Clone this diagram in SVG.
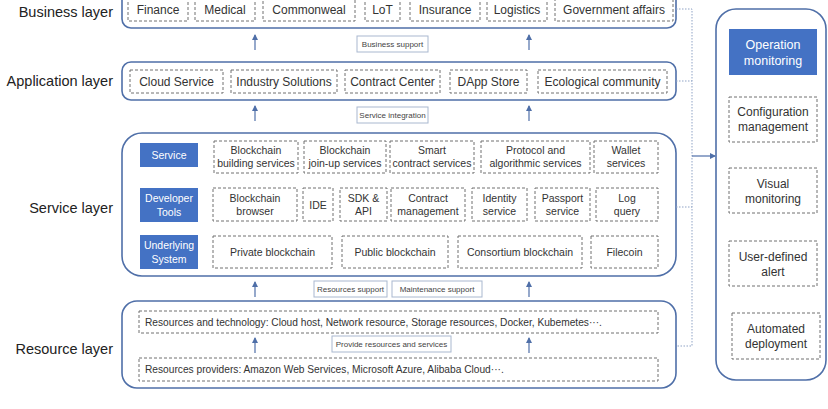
<svg xmlns="http://www.w3.org/2000/svg" width="828" height="409" viewBox="0 0 828 409">
<defs>
<marker id="ah" markerWidth="6" markerHeight="6" refX="5" refY="3" orient="auto" markerUnits="userSpaceOnUse">
<path d="M0,0 L6,3 L0,6 Z" fill="#4f6fa8"/>
</marker>
<style>
.layer{fill:#fff;stroke:#4f6fa8;stroke-width:1.6}
.dash{fill:#fff;stroke:#707070;stroke-width:1;stroke-dasharray:3 2}
.blue{fill:#4472c4;stroke:none}
.lbl{fill:#fff;stroke:#a9b8cf;stroke-width:1}
.t{font-family:"Liberation Sans",Arial,sans-serif;fill:#333;text-anchor:middle}
.title{font-family:"Liberation Sans",Arial,sans-serif;fill:#222;font-size:14.5px;text-anchor:end}
.b{font-size:12px}
.s{font-size:10.5px}
.r{font-size:10.2px;text-anchor:start}
.w{fill:#fff}
.l{font-size:8px;fill:#444}
.m{font-size:12px}
.arr{stroke:#4f6fa8;stroke-width:1.2;fill:none}
.dot{stroke:#8fa3c5;stroke-width:1;stroke-dasharray:1.5 1.5;fill:none}
</style>
</defs>

<!-- Layer titles -->
<text class="title" x="113" y="17">Business layer</text>
<text class="title" x="113" y="86">Application layer</text>
<text class="title" x="113" y="213">Service layer</text>
<text class="title" x="113" y="354">Resource layer</text>

<!-- Business layer -->
<g id="business-layer">
<rect class="layer" x="122" y="-12" width="554" height="40" rx="9"/>
<g id="biz-finance"><rect class="dash" x="128" y="-3" width="60" height="24"/><text class="t b" x="158" y="14">Finance</text></g>
<g id="biz-medical"><rect class="dash" x="195" y="-3" width="60" height="24"/><text class="t b" x="225" y="14">Medical</text></g>
<g id="biz-commonweal"><rect class="dash" x="263" y="-3" width="92" height="24"/><text class="t b" x="309" y="14">Commonweal</text></g>
<g id="biz-lot"><rect class="dash" x="365" y="-3" width="35" height="24"/><text class="t b" x="382.5" y="14">LoT</text></g>
<g id="biz-insurance"><rect class="dash" x="410" y="-3" width="70" height="24"/><text class="t b" x="445" y="14">Insurance</text></g>
<g id="biz-logistics"><rect class="dash" x="487" y="-3" width="60" height="24"/><text class="t b" x="517" y="14">Logistics</text></g>
<g id="biz-gov"><rect class="dash" x="555" y="-3" width="118" height="24"/><text class="t b" x="614" y="14">Government affairs</text></g>
</g>

<!-- Application layer -->
<g id="application-layer">
<rect class="layer" x="122" y="62" width="554" height="38" rx="9"/>
<g id="app-cloud"><rect class="dash" x="130" y="70" width="93" height="23"/><text class="t b" x="176.5" y="86">Cloud Service</text></g>
<g id="app-industry"><rect class="dash" x="231" y="70" width="106" height="23"/><text class="t b" x="284" y="86">Industry Solutions</text></g>
<g id="app-contract"><rect class="dash" x="345" y="70" width="95" height="23"/><text class="t b" x="392.5" y="86">Contract Center</text></g>
<g id="app-dapp"><rect class="dash" x="450" y="70" width="77" height="23"/><text class="t b" x="488.5" y="86">DApp Store</text></g>
<g id="app-eco"><rect class="dash" x="538" y="70" width="129" height="23"/><text class="t b" x="602.5" y="86">Ecological community</text></g>
</g>

<!-- Service layer -->
<g id="service-layer">
<rect class="layer" x="122" y="133" width="554" height="143" rx="20"/>
<g id="svc-service"><rect class="blue" x="140" y="143" width="58" height="24"/><text class="t s w" x="169" y="159">Service</text></g>
<g id="svc-devtools"><rect class="blue" x="140" y="188" width="58" height="34"/><text class="t s w" x="169" y="202">Developer</text><text class="t s w" x="169" y="216">Tools</text></g>
<g id="svc-underlying"><rect class="blue" x="140" y="235" width="58" height="34"/><text class="t s w" x="169" y="249">Underlying</text><text class="t s w" x="169" y="263">System</text></g>

<g id="svc-build"><rect class="dash" x="214" y="141" width="84" height="32"/><text class="t s" x="256" y="154">Blockchain</text><text class="t s" x="256" y="167">building services</text></g>
<g id="svc-joinup"><rect class="dash" x="304" y="141" width="82" height="32"/><text class="t s" x="345" y="154">Blockchain</text><text class="t s" x="345" y="167">join-up services</text></g>
<g id="svc-smart"><rect class="dash" x="390" y="141" width="84" height="32"/><text class="t s" x="432" y="154">Smart</text><text class="t s" x="432" y="167">contract services</text></g>
<g id="svc-protocol"><rect class="dash" x="481" y="141" width="109" height="32"/><text class="t s" x="535.5" y="154">Protocol and</text><text class="t s" x="535.5" y="167">algorithmic services</text></g>
<g id="svc-wallet"><rect class="dash" x="594" y="141" width="64" height="32"/><text class="t s" x="626" y="154">Wallet</text><text class="t s" x="626" y="167">services</text></g>

<g id="dev-browser"><rect class="dash" x="213" y="188" width="84" height="33"/><text class="t s" x="255" y="202">Blockchain</text><text class="t s" x="255" y="215">browser</text></g>
<g id="dev-ide"><rect class="dash" x="303" y="188" width="30" height="33"/><text class="t s" x="318" y="208.5">IDE</text></g>
<g id="dev-sdk"><rect class="dash" x="340" y="188" width="47" height="33"/><text class="t s" x="363.5" y="202">SDK &amp;</text><text class="t s" x="363.5" y="215">API</text></g>
<g id="dev-contract"><rect class="dash" x="391" y="188" width="74" height="33"/><text class="t s" x="428" y="202">Contract</text><text class="t s" x="428" y="215">management</text></g>
<g id="dev-identity"><rect class="dash" x="472" y="188" width="55" height="33"/><text class="t s" x="499.5" y="202">Identity</text><text class="t s" x="499.5" y="215">service</text></g>
<g id="dev-passport"><rect class="dash" x="535" y="188" width="55" height="33"/><text class="t s" x="562.5" y="202">Passport</text><text class="t s" x="562.5" y="215">service</text></g>
<g id="dev-log"><rect class="dash" x="596" y="188" width="62" height="33"/><text class="t s" x="627" y="202">Log</text><text class="t s" x="627" y="215">query</text></g>

<g id="sys-private"><rect class="dash" x="213" y="236" width="119" height="32"/><text class="t s" x="272.5" y="256">Private blockchain</text></g>
<g id="sys-public"><rect class="dash" x="342" y="236" width="106" height="32"/><text class="t s" x="395" y="256">Public blockchain</text></g>
<g id="sys-consortium"><rect class="dash" x="458" y="236" width="124" height="32"/><text class="t s" x="520" y="256">Consortium blockchain</text></g>
<g id="sys-filecoin"><rect class="dash" x="591" y="236" width="67" height="32"/><text class="t s" x="624.5" y="256">Filecoin</text></g>
</g>

<!-- Resource layer -->
<g id="resource-layer">
<rect class="layer" x="122" y="301" width="554" height="87" rx="15"/>
<g id="res-tech"><rect class="dash" x="139" y="311" width="519" height="22"/><text class="t r" x="145" y="326">Resources and technology: Cloud host, Network resource, Storage resources, Docker, Kubemetes···.</text></g>
<g id="res-providers"><rect class="dash" x="139" y="358" width="519" height="23"/><text class="t r" x="145" y="373">Resources providers: Amazon Web Services, Microsoft Azure,  Alibaba Cloud···.</text></g>
</g>

<!-- Operation monitoring panel -->
<g id="monitoring-panel">
<rect class="layer" x="716" y="9" width="110" height="371" rx="20"/>
<g id="mon-operation"><rect class="blue" x="729" y="29" width="88" height="46"/><text class="t w" style="font-size:12.5px" x="773" y="49">Operation</text><text class="t w" style="font-size:12.5px" x="773" y="65">monitoring</text></g>
<g id="mon-config"><rect class="dash" x="729" y="97" width="88" height="45"/><text class="t m" x="773" y="116">Configuration</text><text class="t m" x="773" y="131">management</text></g>
<g id="mon-visual"><rect class="dash" x="729" y="168" width="88" height="45"/><text class="t m" x="773" y="188">Visual</text><text class="t m" x="773" y="203">monitoring</text></g>
<g id="mon-alert"><rect class="dash" x="729" y="241" width="88" height="45"/><text class="t m" x="773" y="261">User-defined</text><text class="t m" x="773" y="276">alert</text></g>
<g id="mon-deploy"><rect class="dash" x="732" y="313" width="88" height="46"/><text class="t m" x="776" y="333">Automated</text><text class="t m" x="776" y="348">deployment</text></g>
</g>

<!-- Connectors -->
<g id="connectors">
<line class="arr" x1="255" y1="50" x2="255" y2="35" marker-end="url(#ah)"/>
<line class="arr" x1="529" y1="50" x2="529" y2="35" marker-end="url(#ah)"/>
<line class="arr" x1="255" y1="121" x2="255" y2="106" marker-end="url(#ah)"/>
<line class="arr" x1="529" y1="121" x2="529" y2="106" marker-end="url(#ah)"/>
<line class="arr" x1="255" y1="297" x2="255" y2="282" marker-end="url(#ah)"/>
<line class="arr" x1="529" y1="297" x2="529" y2="282" marker-end="url(#ah)"/>
<line class="arr" x1="255" y1="353" x2="255" y2="338" marker-end="url(#ah)"/>
<line class="arr" x1="529" y1="353" x2="529" y2="338" marker-end="url(#ah)"/>

<g id="lbl-business"><rect class="lbl" x="357" y="36" width="71" height="16"/><text class="t l" x="392.5" y="47">Business support</text></g>
<g id="lbl-integration"><rect class="lbl" x="357" y="107" width="71" height="16"/><text class="t l" x="392.5" y="118">Service integration</text></g>
<g id="lbl-resources"><rect class="lbl" x="314" y="281" width="73" height="16"/><text class="t l" x="350.5" y="292">Resources support</text></g>
<g id="lbl-maintenance"><rect class="lbl" x="392" y="281" width="90" height="16"/><text class="t l" x="437" y="292">Maintenance support</text></g>
<g id="lbl-provide"><rect class="lbl" x="332" y="336" width="119" height="16"/><text class="t l" x="391.5" y="347">Provide resources and services</text></g>

<polyline class="dot" points="676,9 692,9 692,346 676,346"/>
<line class="dot" x1="676" y1="81" x2="692" y2="81"/>
<line class="dot" x1="676" y1="207" x2="692" y2="207"/>
<line class="arr" x1="692" y1="156" x2="715" y2="156" marker-end="url(#ah)"/>
</g>
</svg>
